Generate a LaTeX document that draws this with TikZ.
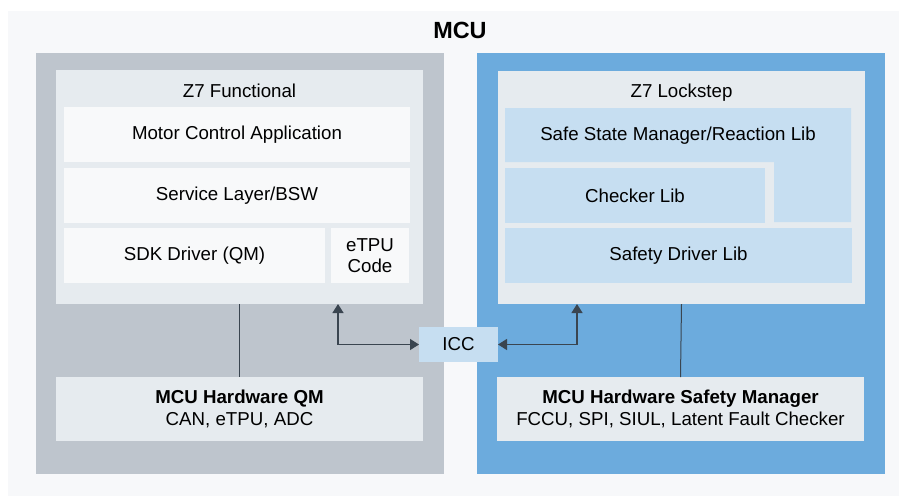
\documentclass[tikz,border=0pt]{standalone}
\usepackage{fontspec}
\setmainfont{Liberation Sans}
\usetikzlibrary{arrows.meta}
\definecolor{bgc}{HTML}{F7F8FA}
\definecolor{greyp}{HTML}{BEC5CD}
\definecolor{bluep}{HTML}{6CABDD}
\definecolor{innerc}{HTML}{E6EBEF}
\definecolor{whitec}{HTML}{F8F9FA}
\definecolor{lblue}{HTML}{C6DEF1}
\definecolor{linec}{HTML}{3A4550}
\tikzset{
  box/.style={rectangle,inner sep=0pt,outer sep=0pt,draw=none,font=\fontsize{18.7}{21.5}\selectfont,text=black,align=center},
  conn/.style={draw=linec,line width=1.3pt},
  vline/.style={draw=linec,line width=1pt},
}
\newcommand{\bx}[7]{% name, style, x1, y1, x2, y2, text
  \node[box,#2,minimum width={(#5-#3)*1pt},minimum height={(#6-#4)*1pt}] (#1) at ({(#3+#5)/2},{(#4+#6)/2}) {#7};}
\begin{document}
\begin{tikzpicture}[x=1pt,y=-1pt]
\useasboundingbox (0,0) rectangle (899,496);
\fill[white] (0,0) rectangle (899,496);
\bx{mcu}{fill=bgc}{8}{11}{899}{496}{}
\node[box,font=\fontsize{23.4}{27}\selectfont\bfseries] (title) at (460,30) {MCU};
% left panel
\bx{qm}{fill=greyp}{36}{53}{444}{474}{}
\bx{z7f}{fill=innerc}{56}{70}{423}{304}{}
\node[box,anchor=base] (z7ft) at (239.5,97) {Z7 Functional};
\bx{mca}{fill=whitec}{64}{107}{410}{162}{Motor Control Application}
\bx{sl}{fill=whitec}{64}{168}{410}{223}{Service Layer/BSW}
\bx{sdk}{fill=whitec}{64}{228}{325}{283}{SDK Driver (QM)}
\bx{etpu}{fill=whitec}{331}{228}{409}{283}{eTPU\\Code}
\bx{hwqm}{fill=innerc}{56}{377}{423}{441}{\textbf{MCU Hardware QM}\\CAN, eTPU, ADC}
% right panel
\bx{sm}{fill=bluep}{477}{53}{885}{474}{}
\bx{z7l}{fill=innerc}{498}{71}{865}{304}{}
\node[box,anchor=base] (z7lt) at (681.5,97) {Z7 Lockstep};
\fill[lblue] (505,108) -- (851,108) -- (851,222) -- (774,222) -- (774,162) -- (505,162) -- cycle;
\node[box,anchor=base] (ssm) at (678,140) {Safe State Manager/Reaction Lib};
\bx{chk}{fill=lblue}{505}{168}{765}{223}{Checker Lib}
\bx{sdl}{fill=lblue}{505}{228}{852}{283}{Safety Driver Lib}
\bx{hwsm}{fill=innerc}{497}{377}{864}{441}{\textbf{MCU Hardware Safety Manager}\\FCCU, SPI, SIUL, Latent Fault Checker}
% ICC
\bx{icc}{fill=lblue}{419}{327}{498}{362}{ICC}
% connectors
\coordinate (fa) at (338,304);
\coordinate (la) at (577,304);
\draw[vline] (z7f.south) -- (hwqm.north);
\draw[vline] (z7l.south) -- (hwsm.north);
\draw[conn,{Triangle[length=9pt,width=11pt]}-{Triangle[length=9pt,width=11pt]}] (fa) |- (icc.west);
\draw[conn,{Triangle[length=9pt,width=11pt]}-{Triangle[length=9pt,width=11pt]}] (la) |- (icc.east);
\end{tikzpicture}
\end{document}
